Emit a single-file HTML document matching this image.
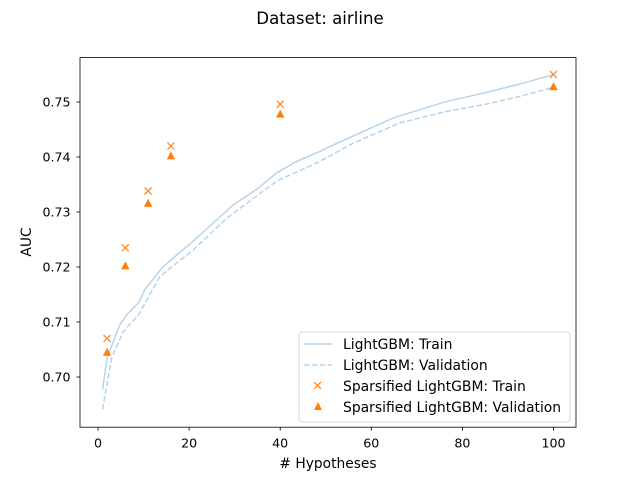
<!DOCTYPE html>
<html><head><meta charset="utf-8"><style>
body{margin:0;background:#fff}
svg{font-family:"DejaVu Sans","Liberation Sans",sans-serif}
</style></head><body>
<svg id="chart" width="640" height="480">
<text x="320" y="24" text-anchor="middle" font-size="16.6">Dataset: airline</text>
<g id="plot"></g>
<rect x="80" y="57.6" width="496" height="369.6" fill="none" stroke="#000" stroke-width="0.8"/>
<text x="328" y="468" text-anchor="middle" font-size="13.8"># Hypotheses</text>
<text transform="translate(31,242) rotate(-90)" text-anchor="middle" font-size="13.8">AUC</text>
<g>
<rect x="299" y="332" width="271" height="90" rx="3" fill="#fff" fill-opacity="0.8" stroke="#ccc" stroke-width="0.8"/>
<line x1="304" y1="344" x2="332" y2="344" stroke="#b6d4e9" stroke-width="1.5"/>
<text x="343" y="349" font-size="13.9">LightGBM: Train</text>
<line x1="304" y1="365" x2="332" y2="365" stroke="#b6d4e9" stroke-width="1.5" stroke-dasharray="5.5,2.4"/>
<text x="343" y="370" font-size="13.9">LightGBM: Validation</text>
<path d="M314,382 l7,7 M321,382 l-7,7" stroke="#ff7f0e" stroke-width="1.2"/>
<text x="343" y="391" font-size="13.9">Sparsified LightGBM: Train</text>
<path d="M318,402 l4,8 h-8z" fill="#ff7f0e"/>
<text x="343" y="412" font-size="13.9">Sparsified LightGBM: Validation</text>
</g>
</svg>
<script>
const trainX=[1,2,4.8,6.3,8.9,10.3,14,17.3,20.9,25.3,29.7,34.8,39.2,43.6,48.7,50.9,56,64.8,76.5,84.6,94.1,100];
const trainY=[0.6977,0.7035,0.7095,0.7113,0.7135,0.7159,0.7198,0.7222,0.7247,0.728,0.7313,0.7341,0.7371,0.7392,0.741,0.7419,0.7438,0.7471,0.7501,0.7516,0.7536,0.755];
const valX=[1,3,5.6,8.9,13.6,20.9,28.3,39.2,48.7,56,66.3,76.5,84.6,92.6,100];
const valY=[0.6941,0.7035,0.7083,0.7113,0.7183,0.7231,0.7289,0.7356,0.7392,0.7425,0.7462,0.7483,0.7495,0.751,0.7527];
const sparseX=[2,6,11,16,40,100];
const sparseTrain=[0.707,0.7235,0.7338,0.742,0.7496,0.755];
const sparseVal=[0.7045,0.7202,0.7316,0.7402,0.7478,0.7528];
const xTicks=[0,20,40,60,80,100];
const yTicks=[0.70,0.71,0.72,0.73,0.74,0.75];
const NS="http://www.w3.org/2000/svg";
const X=v=>98+v*4.555;
const Y=v=>102-(v-0.75)*5500;
const g=document.getElementById('plot');
function mk(t,a){const e=document.createElementNS(NS,t);for(const k in a)e.setAttribute(k,a[k]);g.appendChild(e);return e;}
xTicks.forEach(t=>{
 const l=mk('line',{x1:X(t),x2:X(t),y1:427.2,y2:430.7,stroke:'#000','stroke-width':0.8});
 
 
 const tx=mk('text',{x:X(t),y:447.5,'text-anchor':'middle','font-size':12.6});
 tx.textContent=t;
 
 
});
yTicks.forEach(t=>{
 const l=mk('line',{x1:76.5,x2:80,y1:Y(t),y2:Y(t),stroke:'#000','stroke-width':0.8});
 
 
 const tx=mk('text',{x:70.5,y:Y(t)+4.6,'text-anchor':'end','font-size':12.6});
 tx.textContent=t.toFixed(2);
 
 
});
const p1=mk('polyline',{points:trainX.map((x,i)=>X(x)+','+Y(trainY[i])).join(' '),fill:'none',stroke:'#b6d4e9','stroke-width':1.5});


const p2=mk('polyline',{points:valX.map((x,i)=>X(x)+','+Y(valY[i])).join(' '),fill:'none',stroke:'#b6d4e9','stroke-width':1.5,'stroke-dasharray':'5.5,2.4'});


sparseX.forEach((x,i)=>{
 const cx=X(x),cy=Y(sparseTrain[i]);
 const m=mk('path',{d:`M${cx-3.5},${cy-3.5} l7,7 M${cx+3.5},${cy-3.5} l-7,7`,stroke:'#ff7f0e','stroke-width':1.2});
 
 
 const vy=Y(sparseVal[i]);
 const t=mk('path',{d:`M${cx},${vy-4.5} L${cx+4.2},${vy+3.5} L${cx-4.2},${vy+3.5}Z`,fill:'#ff7f0e'});
 
 
});
</script>
</body></html>
